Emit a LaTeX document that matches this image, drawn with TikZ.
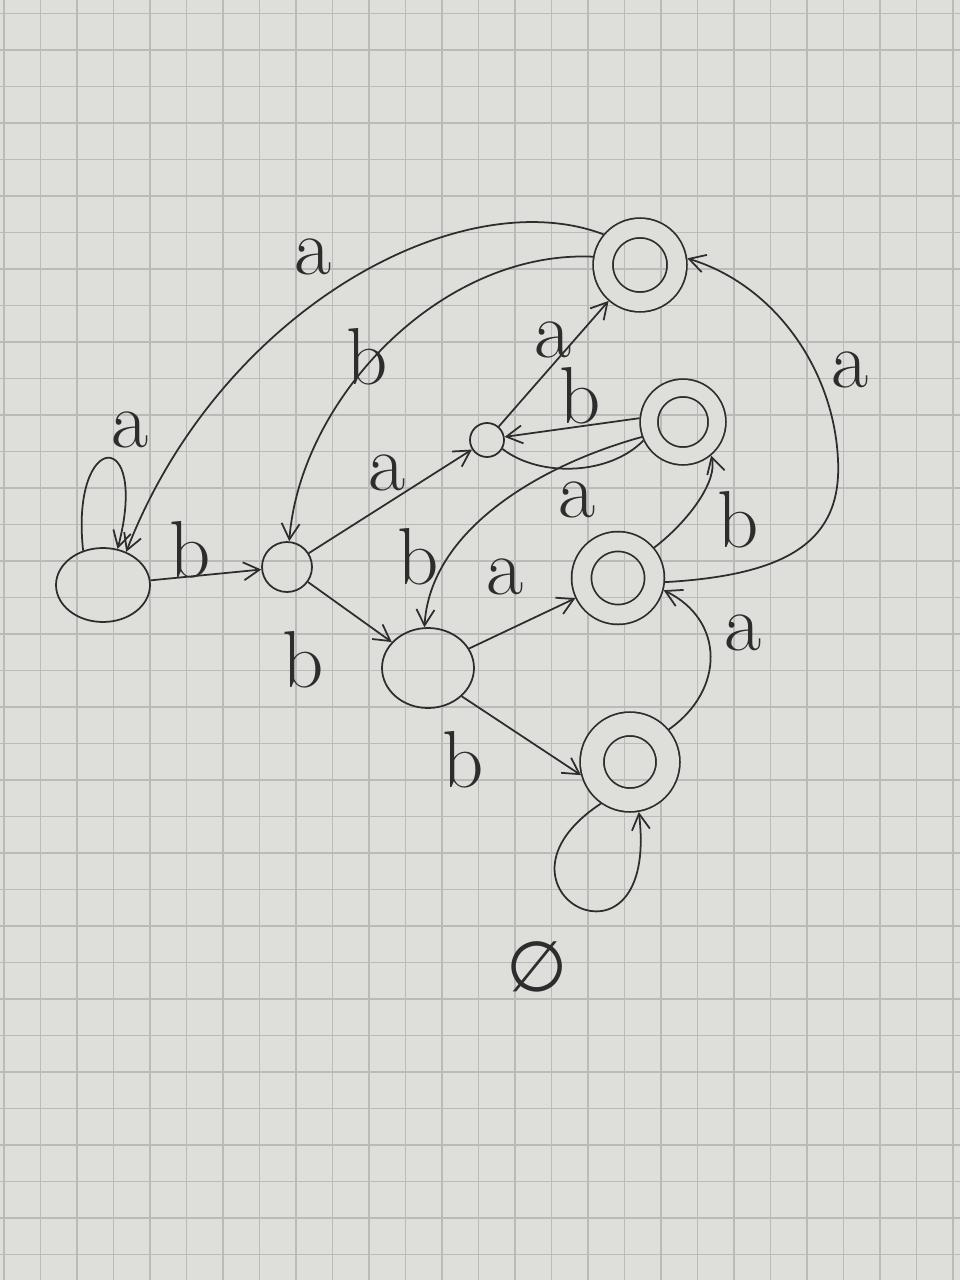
\documentclass[tikz,border=0pt]{standalone}
\usepackage{fontspec}
\newfontfamily\symf{DejaVu Sans}
\usetikzlibrary{arrows.meta,shapes.geometric}
\definecolor{paper}{RGB}{222,222,219}
\definecolor{gridc}{RGB}{186,186,184}
\definecolor{ink}{RGB}{45,45,45}
\begin{document}
\begin{tikzpicture}[x=0.02cm,y=-0.02cm,
  st/.style={circle,draw=ink,line width=1pt,inner sep=0pt,minimum size=#1},
  est/.style 2 args={ellipse,draw=ink,line width=1pt,inner sep=0pt,minimum width=#1,minimum height=#2},
  acc/.style={double=paper,double distance=#1,outer sep=#1/2+1pt},
  arr/.style={draw=ink,line width=1pt,-{Straight Barb[length=0.32cm,width=0.36cm]}},
  ln/.style={draw=ink,line width=1pt},
  lbl/.style={text=ink,font=\fontsize{46}{50}\selectfont,inner sep=0pt}
]
\useasboundingbox (0,0) rectangle (960,1280);
\fill[paper] (0,0) rectangle (960,1280);
\foreach \i in {0,...,26} \draw[gridc,line width=0.6pt] ({4+36.5*\i},0) -- ({4+36.5*\i},1280);
\foreach \i in {0,...,34} \draw[gridc,line width=0.6pt] (0,{13.5+36.5*\i}) -- (960,{13.5+36.5*\i});

% states
\node[est={1.88cm}{1.48cm}] (q0) at (103,585) {};
\node[st=1cm] (q1) at (287,567) {};
\node[st=0.68cm] (q2) at (487,440) {};
\node[est={1.84cm}{1.6cm}] (q3) at (428,668) {};
\node[st=1.48cm,acc=0.36cm] (f1) at (640,265) {};
\node[st=1.36cm,acc=0.32cm] (f2) at (683,422) {};
\node[st=1.46cm,acc=0.36cm] (f3) at (618,578) {};
\node[st=1.52cm,acc=0.44cm] (f4) at (630,762) {};
\coordinate (fa) at (838,460);

% transitions
\draw[arr] (f1.140) .. controls (460,180) and (220,310) .. (q0.55);
\draw[arr] (q0.120) .. controls (70,430) and (150,425) .. (q0.68);
\draw[arr] (q0) -- (q1);
\draw[arr] (f1.170) .. controls (440,250) and (300,400) .. (q1.85);
\draw[arr] (q1) -- (q2);
\draw[arr] (q2) -- (f1);
\draw[arr] (f2.175) -- (q2.10);
\draw[ln] (q2.-30) .. controls (540,478) and (610,475) .. (f2.205);
\draw[arr] (f2.200) .. controls (540,465) and (430,530) .. (q3.95);
\draw[arr] (q1) -- (q3);
\draw[arr] (q3) -- (f3);
\draw[arr] (q3.-40) -- (f4.195);
\draw[arr] (f4.40) .. controls (725,690) and (725,620) .. (f3.-15);
\draw[arr] (f3.40) .. controls (690,520) and (718,480) .. (f2.-50);
\draw[arr] (f3.-5) .. controls (790,575) and (842,540) .. (fa) .. controls (834,370) and (775,285) .. (f1.8);
\draw[arr] (f4.235) .. controls (470,890) and (660,990) .. (f4.280);

% labels
\node[lbl] (l1) at (313,257) {a};
\node[lbl] (l2) at (367,357) {b};
\node[lbl] (l3) at (130,430) {a};
\node[lbl] (l4) at (190,550) {b};
\node[lbl] (l5) at (387,473) {a};
\node[lbl] (l6) at (553,340) {a};
\node[lbl] (l7) at (580,396) {b};
\node[lbl] (l8) at (577,500) {a};
\node[lbl] (l9) at (418,557) {b};
\node[lbl] (l10) at (505,577) {a};
\node[lbl] (l11) at (303,660) {b};
\node[lbl] (l12) at (463,760) {b};
\node[lbl] (l13) at (743,633) {a};
\node[lbl] (l14) at (738,520) {b};
\node[lbl] (l15) at (850,370) {a};
\node[lbl,font=\symf\fontsize{40}{44}\selectfont] (l16) at (537,967) {∅};
\end{tikzpicture}
\end{document}
